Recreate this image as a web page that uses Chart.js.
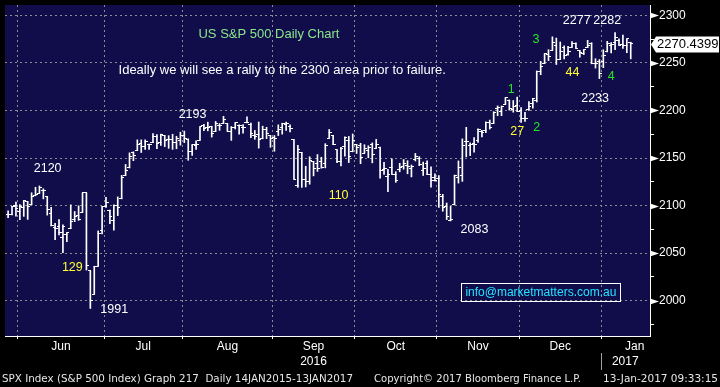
<!DOCTYPE html>
<html>
<head>
<meta charset="utf-8">
<script src="https://cdn.jsdelivr.net/npm/chart.js@4.4.1/dist/chart.umd.min.js"></script>
<style>
  html, body { margin: 0; padding: 0; background: #000; }
  #wrap { width: 720px; height: 387px; }
</style>
</head>
<body>
<div id="wrap"><canvas id="spxChart" width="720" height="387"></canvas></div>
<script>
// SPX daily bars, 26 May 2016 - 12 Jan 2017 (trading days only)
var days = [
  '26 May', '27 May', '31 May',
  '1 Jun', '2 Jun', '3 Jun', '6 Jun', '7 Jun', '8 Jun', '9 Jun', '10 Jun', '13 Jun', '14 Jun', '15 Jun',
  '16 Jun', '17 Jun', '20 Jun', '21 Jun', '22 Jun', '23 Jun', '24 Jun', '27 Jun', '28 Jun', '29 Jun', '30 Jun',
  '1 Jul', '5 Jul', '6 Jul', '7 Jul', '8 Jul', '11 Jul', '12 Jul', '13 Jul', '14 Jul', '15 Jul',
  '18 Jul', '19 Jul', '20 Jul', '21 Jul', '22 Jul', '25 Jul', '26 Jul', '27 Jul', '28 Jul', '29 Jul',
  '1 Aug', '2 Aug', '3 Aug', '4 Aug', '5 Aug', '8 Aug', '9 Aug', '10 Aug', '11 Aug', '12 Aug', '15 Aug', '16 Aug',
  '17 Aug', '18 Aug', '19 Aug', '22 Aug', '23 Aug', '24 Aug', '25 Aug', '26 Aug', '29 Aug', '30 Aug', '31 Aug',
  '1 Sep', '2 Sep', '6 Sep', '7 Sep', '8 Sep', '9 Sep', '12 Sep', '13 Sep', '14 Sep', '15 Sep', '16 Sep',
  '19 Sep', '20 Sep', '21 Sep', '22 Sep', '23 Sep', '26 Sep', '27 Sep', '28 Sep', '29 Sep', '30 Sep',
  '3 Oct', '4 Oct', '5 Oct', '6 Oct', '7 Oct', '10 Oct', '11 Oct', '12 Oct', '13 Oct', '14 Oct', '17 Oct',
  '18 Oct', '19 Oct', '20 Oct', '21 Oct', '24 Oct', '25 Oct', '26 Oct', '27 Oct', '28 Oct', '31 Oct',
  '1 Nov', '2 Nov', '3 Nov', '4 Nov', '7 Nov', '8 Nov', '9 Nov', '10 Nov', '11 Nov', '14 Nov', '15 Nov',
  '16 Nov', '17 Nov', '18 Nov', '21 Nov', '22 Nov', '23 Nov', '25 Nov', '28 Nov', '29 Nov', '30 Nov',
  '1 Dec', '2 Dec', '5 Dec', '6 Dec', '7 Dec', '8 Dec', '9 Dec', '12 Dec', '13 Dec', '14 Dec', '15 Dec',
  '16 Dec', '19 Dec', '20 Dec', '21 Dec', '22 Dec', '23 Dec', '27 Dec', '28 Dec', '29 Dec', '30 Dec',
  '3 Jan', '4 Jan', '5 Jan', '6 Jan', '9 Jan', '10 Jan', '11 Jan', '12 Jan'
];

var opens = [
  2091.0, 2090.1, 2100.1,
  2093.9, 2097.7, 2104.1, 2100.8, 2110.2, 2112.7, 2115.7, 2109.6, 2091.8, 2076.7, 2077.6,
  2066.4, 2069.5, 2075.6, 2085.2, 2089.8, 2092.8, 2113.3, 2031.5, 2006.7, 2036.1, 2073.2,
  2099.3, 2095.1, 2084.4, 2100.4, 2107.0, 2131.7, 2139.5, 2155.8, 2157.9, 2165.1,
  2162.0, 2163.8, 2166.1, 2172.9, 2166.5, 2173.7, 2169.0, 2169.8, 2166.1, 2168.8,
  2173.2, 2169.9, 2156.8, 2163.5, 2168.8, 2183.8, 2182.2, 2182.8, 2178.0, 2183.7, 2186.1, 2186.2,
  2177.8, 2181.9, 2184.2, 2181.6, 2187.8, 2185.1, 2173.3, 2175.1, 2170.2, 2179.5, 2173.6,
  2171.3, 2177.5, 2181.6, 2185.2, 2182.8, 2169.1, 2120.9, 2155.8, 2127.9, 2125.4, 2146.5,
  2144.0, 2145.9, 2144.6, 2170.9, 2173.3, 2158.5, 2146.0, 2161.9, 2168.9, 2156.5,
  2164.3, 2163.4, 2155.2, 2158.2, 2164.2, 2160.4, 2161.4, 2137.7, 2130.3, 2139.7, 2133.0,
  2138.3, 2140.8, 2142.5, 2139.4, 2148.5, 2149.7, 2137.0, 2144.1, 2132.2, 2129.8,
  2128.7, 2109.4, 2098.8, 2083.8, 2100.6, 2129.9, 2131.6, 2167.5, 2162.7, 2165.6, 2168.3,
  2177.5, 2178.6, 2186.9, 2186.4, 2201.6, 2198.6, 2206.3, 2210.2, 2200.8, 2205.0,
  2200.2, 2191.1, 2200.7, 2207.3, 2210.7, 2241.1, 2249.7, 2258.8, 2263.3, 2268.4, 2253.8,
  2266.8, 2259.2, 2266.5, 2270.5, 2262.9, 2260.3, 2266.2, 2270.2, 2249.5, 2251.6,
  2251.6, 2261.6, 2268.2, 2271.1, 2273.6, 2269.0, 2268.6, 2271.1
];

var highs = [
  2094.3, 2099.1, 2103.5,
  2100.9, 2105.3, 2104.1, 2113.4, 2119.2, 2120.6, 2117.6, 2109.6, 2098.1, 2081.3, 2085.1,
  2079.6, 2071.3, 2100.7, 2093.7, 2099.7, 2113.3, 2113.3, 2031.5, 2036.1, 2073.3, 2098.9,
  2108.7, 2095.1, 2100.7, 2109.1, 2131.7, 2143.2, 2155.4, 2156.5, 2169.1, 2169.1,
  2169.0, 2164.6, 2175.6, 2174.6, 2175.1, 2173.7, 2173.5, 2175.0, 2172.9, 2177.1,
  2178.3, 2170.2, 2163.8, 2168.2, 2182.9, 2185.4, 2187.7, 2183.4, 2188.5, 2186.3, 2193.8, 2186.2,
  2183.1, 2187.0, 2185.0, 2185.2, 2193.4, 2186.7, 2179.0, 2187.9, 2183.5, 2182.3, 2173.8,
  2173.6, 2184.9, 2186.6, 2187.9, 2184.9, 2169.1, 2163.3, 2155.8, 2141.3, 2151.3, 2146.5,
  2153.6, 2150.8, 2165.1, 2180.0, 2173.8, 2158.5, 2161.1, 2172.4, 2172.7, 2175.3,
  2164.4, 2165.5, 2164.0, 2162.9, 2165.9, 2169.6, 2161.6, 2145.4, 2138.2, 2149.2, 2135.6,
  2144.4, 2148.4, 2147.2, 2142.6, 2154.8, 2151.4, 2145.7, 2147.1, 2140.7, 2133.3,
  2131.5, 2111.8, 2102.6, 2099.1, 2132.0, 2146.9, 2170.1, 2182.3, 2165.9, 2171.4, 2180.8,
  2179.2, 2188.1, 2189.9, 2198.7, 2204.8, 2204.7, 2213.4, 2211.1, 2210.5, 2214.1,
  2203.0, 2198.0, 2209.4, 2212.8, 2241.6, 2251.7, 2259.8, 2264.0, 2277.5, 2276.2, 2272.1,
  2268.1, 2267.5, 2272.6, 2271.2, 2263.2, 2263.8, 2273.8, 2271.3, 2254.5, 2253.6,
  2263.9, 2272.8, 2271.5, 2282.1, 2275.5, 2279.3, 2275.3, 2271.8
];

var lows = [
  2087.2, 2090.0, 2088.7,
  2085.1, 2088.6, 2085.4, 2100.8, 2110.2, 2112.7, 2107.0, 2089.9, 2078.5, 2064.1, 2069.1,
  2050.4, 2061.9, 2075.6, 2083.0, 2084.4, 2092.8, 2032.1, 1991.7, 2006.7, 2036.1, 2070.0,
  2097.9, 2080.9, 2074.0, 2089.4, 2107.0, 2131.7, 2139.5, 2147.2, 2157.9, 2155.8,
  2159.1, 2159.0, 2166.1, 2159.8, 2163.2, 2162.0, 2160.2, 2159.1, 2159.7, 2163.5,
  2166.2, 2147.6, 2152.7, 2159.1, 2168.8, 2178.8, 2178.6, 2172.0, 2178.0, 2179.1, 2186.1, 2178.1,
  2168.5, 2180.5, 2175.1, 2176.0, 2186.8, 2171.3, 2169.7, 2160.4, 2170.2, 2170.4, 2161.3,
  2157.1, 2173.6, 2175.1, 2179.1, 2177.5, 2127.8, 2119.1, 2119.1, 2119.6, 2122.4, 2131.2,
  2135.9, 2139.2, 2139.6, 2170.9, 2164.0, 2145.0, 2141.6, 2151.8, 2145.2, 2156.5,
  2154.8, 2144.0, 2155.2, 2150.3, 2144.9, 2160.4, 2128.8, 2132.8, 2114.7, 2133.0, 2124.4,
  2135.5, 2138.2, 2133.4, 2130.1, 2146.9, 2141.9, 2131.6, 2132.5, 2119.4, 2125.5,
  2097.9, 2094.0, 2085.2, 2083.8, 2100.6, 2123.6, 2125.4, 2151.2, 2152.5, 2156.1, 2166.4,
  2172.2, 2176.7, 2180.4, 2186.4, 2194.5, 2194.5, 2206.3, 2200.4, 2198.2, 2198.8,
  2187.4, 2188.4, 2200.0, 2202.5, 2208.9, 2237.6, 2249.2, 2252.4, 2263.3, 2248.4, 2253.8,
  2254.2, 2258.2, 2266.5, 2265.2, 2256.1, 2258.8, 2266.2, 2249.1, 2244.6, 2233.6,
  2245.1, 2261.6, 2260.5, 2264.1, 2268.8, 2265.3, 2260.8, 2254.3
];

var closes = [
  2090.1, 2099.1, 2096.9,
  2099.3, 2105.3, 2099.1, 2109.4, 2112.1, 2119.1, 2115.5, 2096.1, 2079.1, 2075.3, 2071.5,
  2078.0, 2071.2, 2083.3, 2088.9, 2085.5, 2113.3, 2037.4, 2000.5, 2036.1, 2070.8, 2098.9,
  2103.0, 2088.6, 2099.7, 2097.9, 2129.9, 2137.2, 2152.1, 2152.4, 2163.8, 2161.7,
  2166.9, 2163.8, 2173.0, 2165.2, 2175.0, 2168.5, 2169.2, 2166.6, 2170.1, 2173.6,
  2170.8, 2157.0, 2163.8, 2164.3, 2182.9, 2180.9, 2181.7, 2175.5, 2185.8, 2184.1, 2190.2, 2178.2,
  2182.2, 2187.0, 2183.9, 2182.6, 2186.9, 2175.4, 2172.5, 2169.0, 2180.4, 2176.1, 2171.0,
  2170.9, 2180.0, 2186.5, 2186.2, 2181.3, 2127.8, 2159.0, 2127.0, 2125.8, 2147.3, 2139.2,
  2139.1, 2139.8, 2163.1, 2177.2, 2164.7, 2146.1, 2159.9, 2171.4, 2151.1, 2168.3,
  2161.2, 2150.5, 2159.7, 2160.8, 2153.7, 2163.7, 2136.7, 2139.2, 2132.6, 2133.0, 2126.5,
  2139.6, 2144.3, 2141.3, 2141.2, 2151.3, 2143.2, 2139.4, 2133.0, 2126.4, 2126.2,
  2111.7, 2097.9, 2088.7, 2085.2, 2131.5, 2139.6, 2163.3, 2167.5, 2164.5, 2164.2, 2180.4,
  2176.9, 2187.1, 2181.9, 2198.2, 2202.9, 2204.7, 2213.4, 2201.7, 2204.7, 2198.8,
  2191.1, 2192.0, 2204.7, 2212.2, 2241.4, 2246.2, 2259.5, 2257.0, 2271.7, 2253.3, 2262.0,
  2258.1, 2262.5, 2270.8, 2265.2, 2261.0, 2263.8, 2268.9, 2249.9, 2249.3, 2238.8,
  2257.8, 2270.8, 2269.0, 2277.0, 2268.9, 2268.9, 2275.3, 2270.4399
];

// axis ticks (x values are trading-day numbers, 0 = 26 May)
var yTicks = [1975, 2000, 2025, 2050, 2075, 2100, 2125, 2150, 2175, 2200, 2225, 2250, 2275, 2300];
var monthLabels = ['Jun', 'Jul', 'Aug', 'Sep', 'Oct', 'Nov', 'Dec', 'Jan'];
var monthMid = [13.5, 34.5, 56, 78, 99, 120, 141, 160];
var monthBound = [2.5, 24.5, 44.5, 67.5, 88.5, 109.5, 130.5, 151.5];
var yearLabels = ['2016', '2017'];
var yearAt = [78, 157.6];

// text notes on the chart, placed in data units
var notes = [
  { text: 'US S&P 500 Daily Chart', x: 66.6, y: 2279.8, color: '#8ae68a', size: 13 },
  { text: 'Ideally we will see a rally to the 2300 area prior to failure.', x: 70.0, y: 2242.5, color: '#ffffff', size: 13 },
  { text: '2193', x: 47.1, y: 2196, color: '#ffffff' },
  { text: '2120', x: 10.1, y: 2139, color: '#ffffff' },
  { text: '129', x: 16.4, y: 2034.5, color: '#ffff33' },
  { text: '1991', x: 27.1, y: 1991, color: '#ffffff' },
  { text: '110', x: 84.4, y: 2110, color: '#ffff33' },
  { text: '2083', x: 119.1, y: 2074.8, color: '#ffffff' },
  { text: '1', x: 128.5, y: 2221.8, color: '#22e622' },
  { text: '27', x: 130.0, y: 2178.3, color: '#ffff33' },
  { text: '2', x: 135.0, y: 2182.5, color: '#22e622' },
  { text: '3', x: 134.8, y: 2274.6, color: '#22e622' },
  { text: '2277', x: 145.2, y: 2294.3, color: '#ffffff' },
  { text: '44', x: 144.1, y: 2239.4, color: '#ffff33' },
  { text: '2282', x: 153.0, y: 2294.3, color: '#ffffff' },
  { text: '4', x: 154.0, y: 2235.3, color: '#22e622' },
  { text: '2233', x: 149.9, y: 2212.5, color: '#ffffff' }
];
var email = { text: 'info@marketmatters.com.au', x: 136.05, y: 2008.6 };

var footLeft = 'SPX Index (S&P 500 Index) Graph 217  Daily 14JAN2015-13JAN2017';
var footMid = 'Copyright\u00a9 2017 Bloomberg Finance L.P.';
var footRight = '13-Jan-2017 09:33:15';

function tickImage(side) {
  var c = document.createElement('canvas');
  c.width = 5;
  c.height = 1;
  var g = c.getContext('2d');
  g.fillStyle = '#ffffff';
  g.fillRect(side === 'open' ? 0 : 2, 0, 3, 1);
  return c;
}

function isBound(tick) {
  return !!tick && monthBound.indexOf(tick.value) !== -1;
}

var bgPlugin = {
  id: 'bg',
  beforeDraw: function (chart) {
    var ctx = chart.ctx, a = chart.chartArea;
    ctx.save();
    ctx.fillStyle = '#000000';
    ctx.fillRect(0, 0, chart.width, chart.height);
    ctx.fillStyle = '#100d4a';
    ctx.fillRect(a.left, a.top, a.right - a.left, a.bottom - a.top);
    ctx.restore();
  }
};

var extrasPlugin = {
  id: 'extras',
  afterDraw: function (chart) {
    var ctx = chart.ctx, a = chart.chartArea;
    var xs = chart.scales.x, ys = chart.scales.y;
    ctx.save();

    // notes
    ctx.textAlign = 'center';
    ctx.textBaseline = 'middle';
    notes.forEach(function (n) {
      ctx.font = (n.size || 12.5) + 'px "Liberation Sans", Arial, sans-serif';
      ctx.fillStyle = n.color;
      ctx.fillText(n.text, xs.getPixelForValue(n.x), ys.getPixelForValue(n.y));
    });

    // email box
    var ex = xs.getPixelForValue(email.x), ey = ys.getPixelForValue(email.y);
    ctx.font = '12px "Liberation Sans", Arial, sans-serif';
    ctx.fillStyle = '#22e4ff';
    ctx.fillText(email.text, ex, ey);
    ctx.strokeStyle = '#ffffff';
    ctx.lineWidth = 1;
    ctx.strokeRect(Math.round(ex - 79.5) + 0.5, Math.round(ey - 9.5) + 0.5, 159, 18);

    // major tick arrows on the price axis
    ctx.fillStyle = '#ffffff';
    yTicks.forEach(function (v) {
      if (v % 50 !== 0) return;
      var py = Math.round(ys.getPixelForValue(v)) + 0.5;
      ctx.beginPath();
      ctx.moveTo(a.right, py - 3);
      ctx.lineTo(a.right + 9, py);
      ctx.lineTo(a.right, py + 3);
      ctx.closePath();
      ctx.fill();
    });

    // last price tag
    var last = closes[closes.length - 1];
    var ly = Math.round(ys.getPixelForValue(last)) + 0.5;
    ctx.beginPath();
    ctx.moveTo(a.right + 1, ly);
    ctx.lineTo(a.right + 6, ly - 8);
    ctx.lineTo(chart.width - 1, ly - 8);
    ctx.lineTo(chart.width - 1, ly + 8);
    ctx.lineTo(a.right + 6, ly + 8);
    ctx.closePath();
    ctx.fill();
    ctx.fillStyle = '#000000';
    ctx.textAlign = 'left';
    ctx.font = '13px "Liberation Sans", Arial, sans-serif';
    ctx.fillText(last.toFixed(4), a.right + 7, ly);

    // years under the month labels
    ctx.fillStyle = '#ffffff';
    ctx.textAlign = 'center';
    ctx.font = '12px "Liberation Sans", Arial, sans-serif';
    yearLabels.forEach(function (t, i) {
      ctx.fillText(t, xs.getPixelForValue(yearAt[i]), 362);
    });
    var sx = Math.round(xs.getPixelForValue(monthBound[monthBound.length - 1])) + 0.5;
    ctx.strokeStyle = '#a0a0a0';
    ctx.beginPath();
    ctx.moveTo(sx, 353);
    ctx.lineTo(sx, 370);
    ctx.stroke();

    // footer
    ctx.fillStyle = '#e6e6e6';
    ctx.font = '10.5px "DejaVu Sans", sans-serif';
    ctx.textAlign = 'left';
    ctx.fillText(footLeft, 2, 379, 351);
    ctx.fillText(footMid, 374, 379, 207);
    ctx.textAlign = 'right';
    ctx.fillText(footRight, 718, 379, 116);

    ctx.restore();
  }
};

var barData = days.map(function (d, i) { return { x: i, y: [lows[i], highs[i]] }; });
var openData = days.map(function (d, i) { return { x: i, y: opens[i] }; });
var closeData = days.map(function (d, i) { return { x: i, y: closes[i] }; });

var spxChart = new Chart(document.getElementById('spxChart'), {
  type: 'bar',
  data: {
    datasets: [
      {
        type: 'bar',
        data: barData,
        backgroundColor: '#ffffff',
        borderWidth: 0,
        barThickness: 1,
        grouped: false
      },
      {
        type: 'line',
        data: openData,
        showLine: false,
        pointStyle: tickImage('open'),
        pointRadius: 2
      },
      {
        type: 'line',
        data: closeData,
        showLine: false,
        pointStyle: tickImage('close'),
        pointRadius: 2
      }
    ]
  },
  options: {
    responsive: false,
    animation: false,
    devicePixelRatio: 1,
    events: [],
    layout: { padding: 0 },
    plugins: {
      legend: { display: false },
      tooltip: { enabled: false }
    },
    scales: {
      x: {
        type: 'linear',
        min: -0.794,
        max: 163.92,
        offset: false,
        afterBuildTicks: function (s) {
          s.ticks = monthBound.concat(monthMid).sort(function (p, q) { return p - q; })
            .map(function (v) { return { value: v }; });
        },
        afterFit: function (s) {
          s.height = 51;
          s.paddingLeft = 0;
          s.paddingRight = 0;
        },
        grid: {
          offset: false,
          color: function (c) { return isBound(c.tick) ? '#8c8c8c' : 'transparent'; },
          tickColor: function (c) { return isBound(c.tick) ? '#ffffff' : 'transparent'; },
          tickLength: 3
        },
        border: { color: '#ffffff', dash: [2, 3] },
        ticks: {
          autoSkip: false,
          maxRotation: 0,
          padding: 0,
          color: '#ffffff',
          font: { family: 'Liberation Sans', size: 12 },
          callback: function (v) {
            var k = monthMid.indexOf(v);
            return k === -1 ? '' : monthLabels[k];
          }
        }
      },
      y: {
        position: 'right',
        min: 1962.7,
        max: 2311,
        afterBuildTicks: function (s) {
          s.ticks = yTicks.map(function (v) { return { value: v }; });
        },
        afterFit: function (s) {
          s.width = 70;
          s.paddingTop = 0;
          s.paddingBottom = 0;
        },
        grid: {
          color: function (c) { return c.tick && c.tick.value % 50 === 0 ? '#8c8c8c' : 'transparent'; },
          tickColor: function (c) { return c.tick && c.tick.value % 50 === 0 ? 'transparent' : '#ffffff'; },
          tickLength: 4
        },
        border: { color: '#ffffff', dash: [2, 3] },
        ticks: {
          padding: 5,
          color: '#ffffff',
          font: { family: 'Liberation Sans', size: 12 },
          callback: function (v) { return v % 50 === 0 ? String(v) : ''; }
        }
      }
    }
  },
  plugins: [bgPlugin, extrasPlugin]
});
</script>
</body>
</html>
